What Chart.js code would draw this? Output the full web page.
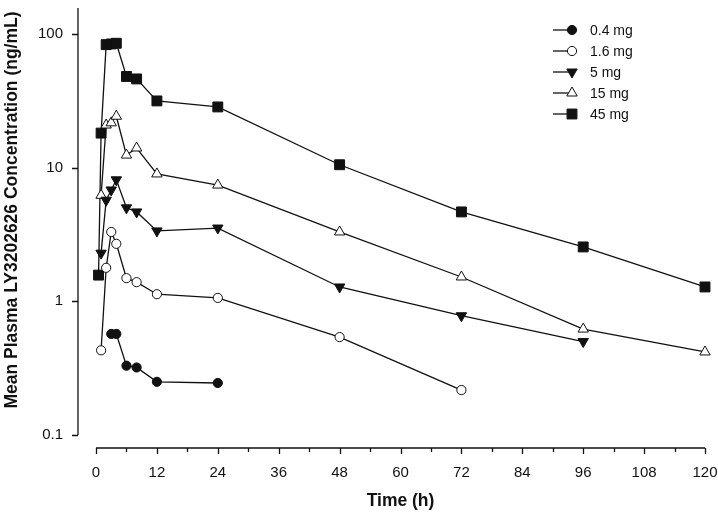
<!DOCTYPE html>
<html>
<head>
<meta charset="utf-8">
<script src="https://cdn.jsdelivr.net/npm/chart.js@4"></script>
<style>
  body { margin: 0; background: #fff; }
</style>
</head>
<body>
<canvas id="pkChart" width="718" height="520"></canvas>
<script>
// sampling times (h) shared by all dose groups
const timePoints = [0.5, 1, 2, 3, 4, 6, 8, 12, 24, 48, 72, 96, 120];

// mean plasma concentration (ng/mL) per dose; null = not shown
const conc_04mg = [null, null, null, 0.57, 0.57, 0.33, 0.32, 0.25, 0.245, null, null, null, null];
const conc_16mg = [null, 0.43, 1.78, 3.3, 2.69, 1.49, 1.39, 1.13, 1.06, 0.54, 0.217, null, null];
const conc_5mg = [null, 2.29, 5.7, 6.8, 8.1, 5.0, 4.66, 3.36, 3.53, 1.28, 0.78, 0.50, null];
const conc_15mg = [null, 6.2, 20.8, 21.6, 24.2, 12.4, 14.0, 8.96, 7.4, 3.30, 1.52, 0.62, 0.418];
const conc_45mg = [1.57, 18.1, 83, 84, 85, 48, 46, 31.5, 28.4, 10.5, 4.66, 2.55, 1.28];

// legend labels
const doseLabels = ["0.4 mg", "1.6 mg", "5 mg", "15 mg", "45 mg"];

// axis ticks
const yTickValues = [0.1, 1, 10, 100];
const xTickValues = [0, 12, 24, 36, 48, 60, 72, 84, 96, 108, 120];
const xMinorValues = [6, 18, 30, 42, 54, 66, 78, 90, 102, 114];

const xTitle = "Time (h)";
const yTitle = "Mean Plasma LY3202626 Concentration (ng/mL)";

const FONT = "'Liberation Sans', Arial, sans-serif";
Chart.defaults.font.family = FONT;
Chart.defaults.color = "#111";

// build {x, y} pairs, skipping empty cells
function toPoints (values) {
    const pts = [];
    values.forEach((v, i) => { if (v !== null) { pts.push({x: timePoints[i], y: v}); } });
    return pts; }

// one dataset per dose group
function createDose (label, values, style, filled, rotation, radius) {
    return {
        label: label, data: toPoints(values),
        borderColor: "#111", borderWidth: 1.3,
        pointStyle: style, pointRotation: rotation, pointRadius: radius,
        pointBackgroundColor: filled ? "#111" : "#fff",
        pointBorderColor: "#111", pointBorderWidth: 1,
        tension: 0, clip: false, fill: false };
}

const doseSets = [
    createDose(doseLabels[0], conc_04mg, "circle", true, 0, 4.6),
    createDose(doseLabels[1], conc_16mg, "circle", false, 0, 4.6),
    createDose(doseLabels[2], conc_5mg, "triangle", true, 180, 6),
    createDose(doseLabels[3], conc_15mg, "triangle", false, 0, 6),
    createDose(doseLabels[4], conc_45mg, "rect", true, 0, 7) ];

// draws SigmaPlot style axes (offset), titles and the legend
const framePlugin = {
    id: "frame",
    afterDraw (chart) {
        const ctx = chart.ctx;
        const xs = chart.scales.x, ys = chart.scales.y;
        const area = chart.chartArea;
        ctx.save();
        ctx.strokeStyle = "#111";
        ctx.lineWidth = 1.3;

        // y axis, stops at the lowest tick
        const yLow = ys.getPixelForValue(yTickValues[0]);
        ctx.beginPath();
        ctx.moveTo(area.left, yLow);
        ctx.lineTo(area.left, area.top);
        yTickValues.forEach((v) => {
            const py = Math.round(ys.getPixelForValue(v)) + 0.5;
            ctx.moveTo(area.left, py); ctx.lineTo(area.left - 6, py); });
        ctx.stroke();

        // x axis from 0 to 120
        const x0 = xs.getPixelForValue(xTickValues[0]);
        const x1 = xs.getPixelForValue(xTickValues[xTickValues.length - 1]);
        ctx.beginPath();
        ctx.moveTo(x0, area.bottom); ctx.lineTo(x1, area.bottom);
        xTickValues.forEach((v) => {
            const px = Math.round(xs.getPixelForValue(v)) + 0.5;
            ctx.moveTo(px, area.bottom); ctx.lineTo(px, area.bottom + 6); });
        xMinorValues.forEach((v) => {
            const px = Math.round(xs.getPixelForValue(v)) + 0.5;
            ctx.moveTo(px, area.bottom); ctx.lineTo(px, area.bottom + 4); });
        ctx.stroke();

        // titles
        ctx.fillStyle = "#111";
        ctx.font = "bold 17.5px " + FONT;
        ctx.textAlign = "center";
        ctx.textBaseline = "middle";
        ctx.fillText(xTitle, (x0 + x1) / 2, 501);
        ctx.save();
        ctx.translate(12, 210);
        ctx.rotate(-Math.PI / 2);
        ctx.fillText(yTitle, 0, 0);
        ctx.restore();

        // legend: short line + marker + label
        ctx.font = "14px " + FONT;
        ctx.textAlign = "left";
        chart.data.datasets.forEach((ds, i) => {
            const ly = 30 + i * 21;
            ctx.lineWidth = 1.3;
            ctx.beginPath();
            ctx.moveTo(553, ly); ctx.lineTo(572, ly);
            ctx.stroke();
            ctx.fillStyle = ds.pointBackgroundColor;
            ctx.lineWidth = 1;
            Chart.helpers.drawPoint(ctx, {
                pointStyle: ds.pointStyle, rotation: ds.pointRotation,
                radius: ds.pointRadius, borderWidth: 1 }, 572, ly);
            ctx.fillStyle = "#111";
            ctx.fillText(ds.label, 590, ly + 1); });
        ctx.restore();
    }
};

new Chart("pkChart", {
    type: "line",
    data: { datasets: doseSets },
    options: {
        responsive: false,
        devicePixelRatio: 1,
        animation: false,
        layout: { padding: { top: 8, right: 13, left: 0, bottom: 0 } },
        plugins: { legend: { display: false }, tooltip: { enabled: false } },
        scales: {
            x: {
                type: "linear", min: -3.55, max: 120,
                grid: { display: false, drawTicks: false },
                border: { display: false },
                afterBuildTicks: (s) => { s.ticks = xTickValues.map((v) => ({value: v})); },
                afterFit: (s) => { s.height = 72; s.paddingLeft = 0; s.paddingRight = 0; },
                ticks: { font: { size: 15 }, padding: 16, maxRotation: 0,
                    callback: (v) => String(v) }
            },
            y: {
                type: "logarithmic", min: 0.08, max: 156,
                grid: { display: false, drawTicks: false },
                border: { display: false },
                afterBuildTicks: (s) => { s.ticks = yTickValues.map((v) => ({value: v})); },
                afterFit: (s) => { s.width = 78; s.paddingTop = 0; s.paddingBottom = 0; },
                ticks: { font: { size: 15 }, padding: 15,
                    callback: (v) => String(v) }
            }
        }
    },
    plugins: [framePlugin]
});
</script>
</body>
</html>
